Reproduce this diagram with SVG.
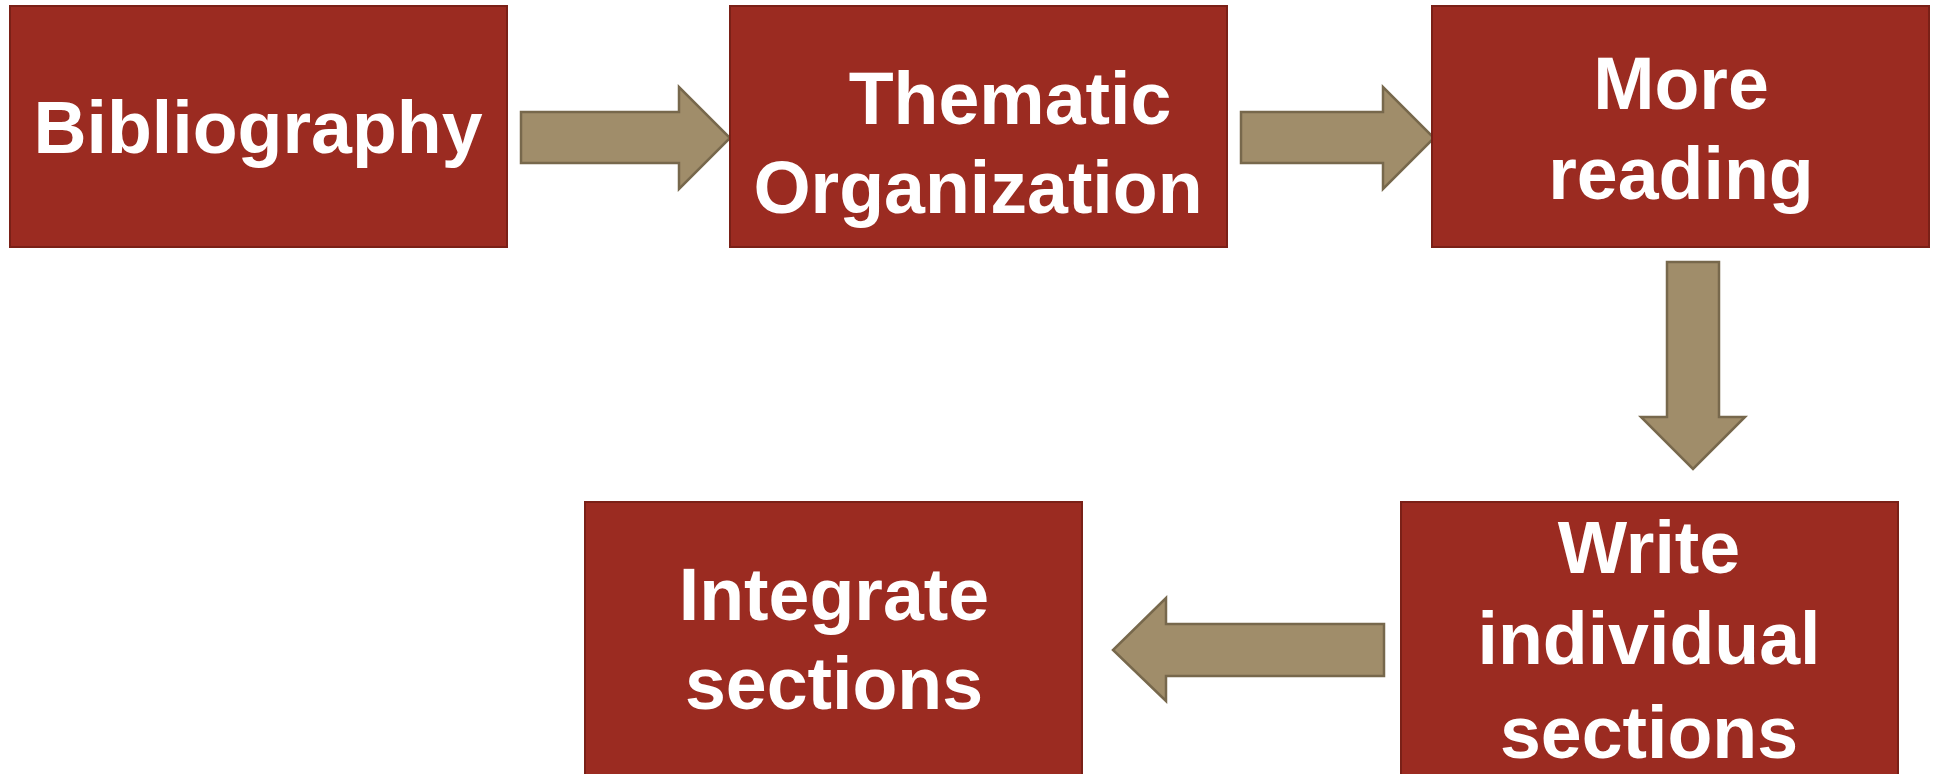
<svg xmlns="http://www.w3.org/2000/svg" width="1939" height="774" viewBox="0 0 1939 774">
  <style>
    .box { fill: #9B2B21; stroke: #7A2017; stroke-width: 2; }
    .lbl { font-family: "Liberation Sans", Arial, sans-serif; font-weight: bold; font-size: 73.5px; fill: #FFFFFF; text-anchor: middle; }
    .arrow { fill: #A08D6A; stroke: #77684C; stroke-width: 2.5; stroke-linejoin: miter; }
  </style>
  <rect width="1939" height="774" fill="#FFFFFF"/>

  <!-- block arrows between the steps -->
  <g id="connectors">
    <path class="arrow" d="M521,112 H679 V87 L730,138 L679,189 V163 H521 Z"/>
    <path class="arrow" d="M1241,112 H1383 V87 L1434,138 L1383,189 V163 H1241 Z"/>
    <path class="arrow" d="M1667,262 H1719 V417 H1745 L1693,469 L1641,417 H1667 Z"/>
    <path class="arrow" d="M1384,624 H1166 V598 L1113,650 L1166,701 V676 H1384 Z"/>
  </g>

  <g id="bibliography">
    <rect class="box" x="10" y="6" width="497" height="241"/>
    <text class="lbl" x="258" y="153">Bibliography</text>
  </g>

  <g id="thematic-organization">
    <rect class="box" x="730" y="6" width="497" height="241"/>
    <text class="lbl" x="1010" y="124">Thematic</text>
    <text class="lbl" x="978" y="213">Organization</text>
  </g>

  <g id="more-reading">
    <rect class="box" x="1432" y="6" width="497" height="241"/>
    <text class="lbl" x="1681" y="109">More</text>
    <text class="lbl" x="1681" y="199">reading</text>
  </g>

  <g id="write-sections">
    <rect class="box" x="1401" y="502" width="497" height="280"/>
    <text class="lbl" x="1649" y="573">Write</text>
    <text class="lbl" x="1649" y="664">individual</text>
    <text class="lbl" x="1649" y="758">sections</text>
  </g>

  <g id="integrate-sections">
    <rect class="box" x="585" y="502" width="497" height="280"/>
    <text class="lbl" x="834" y="620">Integrate</text>
    <text class="lbl" x="834" y="709">sections</text>
  </g>
</svg>
